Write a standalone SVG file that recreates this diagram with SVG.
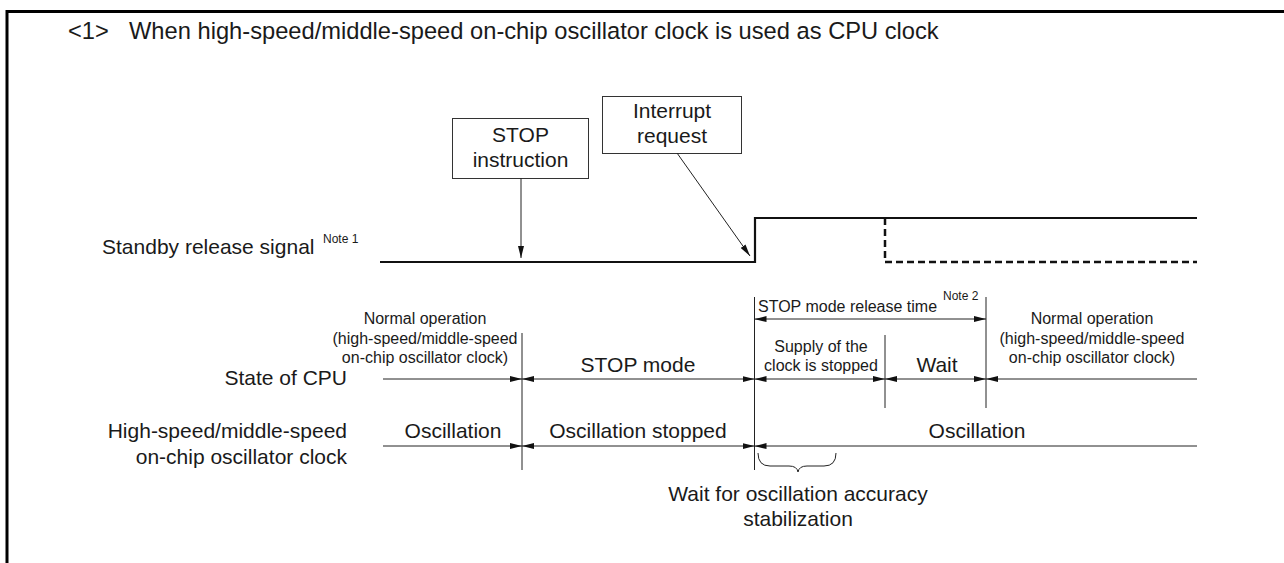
<svg xmlns="http://www.w3.org/2000/svg" width="1284" height="563" viewBox="0 0 1284 563">
<defs>
<style>
text{font-family:"Liberation Sans",Arial,sans-serif;fill:#1a1a1a}
.t21{font-size:21px}
.t16{font-size:16px}
.note{font-size:12px}
.c{text-anchor:middle}
.r{text-anchor:end}
.thin{stroke:#222;stroke-width:1;fill:none}
.sig{stroke:#111;stroke-width:2.2;fill:none}
.dash{stroke:#111;stroke-width:2.5;fill:none;stroke-dasharray:7 4}
.box{fill:#fff;stroke:#333;stroke-width:1}
</style>
<marker id="ah" viewBox="0 0 12 6" refX="12" refY="3" markerWidth="12" markerHeight="6" markerUnits="userSpaceOnUse" orient="auto-start-reverse">
<path d="M0,0 L12,3 L0,6 z" fill="#111"/>
</marker>
</defs>
<rect width="1284" height="563" fill="#fff"/>
<path d="M7,563 V11.5 H1284" fill="none" stroke="#000" stroke-width="3"/>
<g id="title">
<text x="68" y="39" style="font-size:23.7px">&lt;1&gt;</text>
<text x="129" y="39" style="font-size:23.7px">When high-speed/middle-speed on-chip oscillator clock is used as CPU clock</text>
</g>
<g id="stop-instruction">
<rect class="box" x="452.5" y="118.5" width="136" height="60"/>
<text class="t21 c" x="520.5" y="142">STOP</text>
<text class="t21 c" x="520.5" y="167">instruction</text>
</g>
<g id="interrupt-request">
<rect class="box" x="602.5" y="96.5" width="139" height="57"/>
<text class="t21 c" x="672" y="118">Interrupt</text>
<text class="t21 c" x="672" y="143">request</text>
</g>
<g id="labels">
<text class="t21" x="102" y="254">Standby release signal</text>
<text class="note" x="323" y="243">Note 1</text>
<text class="t21 r" x="347" y="385">State of CPU</text>
<text class="t21 r" x="347" y="438">High-speed/middle-speed</text>
<text class="t21 r" x="347" y="464">on-chip oscillator clock</text>
</g>
<g id="signal">
<path class="sig" d="M380,262 H755 V218 H1197"/>
<path class="dash" d="M885,218 V262 H1197"/>
</g>
<g id="normal-left">
<text class="t16 c" x="425" y="324">Normal operation</text>
<text class="t16 c" x="425" y="344">(high-speed/middle-speed</text>
<text class="t16 c" x="425" y="363">on-chip oscillator clock)</text>
</g>
<g id="stop-mode"><text class="t21 c" x="638" y="372">STOP mode</text></g>
<g id="supply-stopped">
<text class="t16 c" x="821" y="352">Supply of the</text>
<text class="t16 c" x="821" y="371">clock is stopped</text>
</g>
<g id="wait"><text class="t21 c" x="937" y="372">Wait</text></g>
<g id="normal-right">
<text class="t16 c" x="1092" y="324">Normal operation</text>
<text class="t16 c" x="1092" y="344">(high-speed/middle-speed</text>
<text class="t16 c" x="1092" y="363">on-chip oscillator clock)</text>
</g>
<g id="release-time">
<text class="t16" x="758" y="312">STOP mode release time</text>
<text class="note" x="943" y="300">Note 2</text>
</g>
<g id="osc-left"><text class="t21 c" x="453" y="438">Oscillation</text></g>
<g id="osc-stopped"><text class="t21 c" x="638" y="438">Oscillation stopped</text></g>
<g id="osc-right"><text class="t21 c" x="977" y="438">Oscillation</text></g>
<g id="stabilization">
<path class="thin" d="M758,453 Q758,466 770,466 H789 Q797,466 798,472 Q799,466 807,466 H824 Q836,466 836,453"/>
<text class="t21 c" x="798" y="501">Wait for oscillation accuracy</text>
<text class="t21 c" x="798" y="526">stabilization</text>
</g>
<g id="connectors">
<line class="thin" x1="521" y1="178" x2="521" y2="258" marker-end="url(#ah)"/>
<line class="thin" x1="677" y1="153" x2="750" y2="256" marker-end="url(#ah)"/>
<line class="thin" x1="522" y1="333" x2="522" y2="470"/>
<line class="thin" x1="754.5" y1="297" x2="754.5" y2="470"/>
<line class="thin" x1="885" y1="335" x2="885" y2="408"/>
<line class="thin" x1="986" y1="297" x2="986" y2="408"/>
<line class="thin" x1="754.5" y1="319" x2="986" y2="319" marker-start="url(#ah)" marker-end="url(#ah)"/>
<line class="thin" x1="383" y1="379" x2="522" y2="379" marker-end="url(#ah)"/>
<line class="thin" x1="522" y1="379" x2="754.5" y2="379" marker-start="url(#ah)" marker-end="url(#ah)"/>
<line class="thin" x1="754.5" y1="379" x2="885" y2="379" marker-start="url(#ah)" marker-end="url(#ah)"/>
<line class="thin" x1="885" y1="379" x2="986" y2="379" marker-start="url(#ah)" marker-end="url(#ah)"/>
<line class="thin" x1="986" y1="379" x2="1197" y2="379" marker-start="url(#ah)"/>
<line class="thin" x1="383" y1="446" x2="522" y2="446" marker-end="url(#ah)"/>
<line class="thin" x1="522" y1="446" x2="754.5" y2="446" marker-start="url(#ah)" marker-end="url(#ah)"/>
<line class="thin" x1="754.5" y1="446" x2="1197" y2="446" marker-start="url(#ah)"/>
</g>
</svg>
